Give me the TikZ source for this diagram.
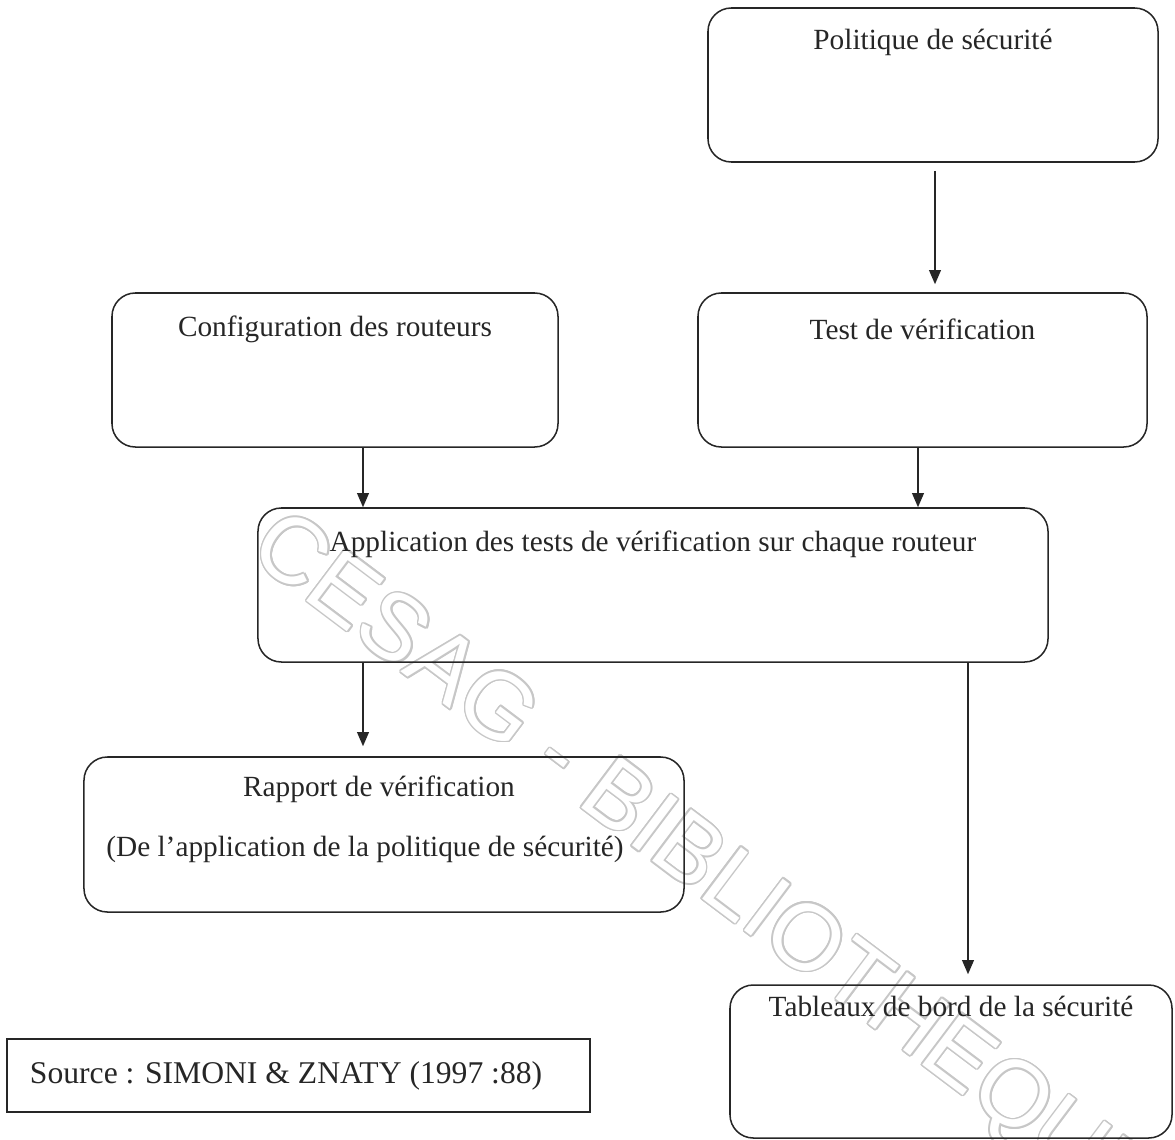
\documentclass[tikz,border=0pt]{standalone}
\usepackage{fontspec}
\setmainfont{Liberation Serif}
\newfontfamily\filigrane{Liberation Sans}
\usetikzlibrary{arrows.meta,positioning,calc}

\begin{document}
\begin{tikzpicture}[x=0.03cm, y=-0.03cm,
   every node/.style={text=black!85, font=\fontsize{25}{30}\selectfont},
   etape/.style={draw=black!85, line width=1.3pt, rounded corners=0.7cm, minimum height=4.62cm},
   fleche/.style={draw=black!85, line width=1.3pt, -{Triangle[width=10pt,length=12pt]}},
   cadre/.style={draw=black!85, line width=1.3pt, minimum width=17.49cm, minimum height=2.19cm,
      inner xsep=0.69cm, text width=16.11cm, align=flush left, font=\fontsize{27}{32}\selectfont},
   filig/.style={anchor=west, rotate=-37, font=\filigrane\fontsize{80}{80}\selectfont}]
   \useasboundingbox (0,0) rectangle (1175,1139);

   % Watermark (behind)
   \coordinate (wm) at (258,534);
   \foreach \a in {0,22.5,...,337.5}
      \node[filig, text=black!22] at ($(wm)+(\a:1.6)$) {CESAG - BIBLIOTHEQUE};
   \node[filig, text=white] (wm-t) at (wm) {CESAG - BIBLIOTHEQUE};

   % Top row
   \node[etape, minimum width=13.5cm] (pol) at (933,85) {};
   \node (pol-t) at ([yshift=-1.05cm]pol.north) {Politique de sécurité};
   \node[etape, minimum width=13.38cm] (cfg) at (335,370) {};
   \node (cfg-t) at ([yshift=-1.11cm]cfg.north) {Configuration des routeurs};
   \node[etape, minimum width=13.47cm] (test) at (922.5,370) {};
   \node (test-t) at ([yshift=-1.11cm]test.north) {Test de vérification};

   % Middle
   \node[etape, minimum width=23.7cm] (app) at (653,585) {};
   \node (app-t) at ([yshift=-1.11cm]app.north) {Application des tests de vérification sur chaque routeur};

   % Results
   \node[etape, minimum width=18cm, minimum height=4.65cm] (rap) at (384,834.5) {};
   \node (rap-t1) at ([xshift=-0.15cm, yshift=-0.99cm]rap.north) {Rapport de vérification};
   \node (rap-t2) at ([xshift=-0.57cm, yshift=-2.79cm]rap.north) {(De l’application de la politique de sécurité)};
   \node[etape, minimum width=13.26cm, minimum height=4.59cm] (tab) at (951,1061.5) {};
   \node (tab-t) at ([yshift=-0.66cm]tab.north) {Tableaux de bord de la sécurité};

   \node[cadre] (src) at (298.5,1075.5) {Source : SIMONI \& ZNATY (1997 :88)};

   % Arrows
   \draw[fleche, shorten <=0.24cm, shorten >=0.24cm] (pol.south -| 935,0) -- (test.north -| 935,0);
   \draw[fleche] (cfg.south -| 363,0) -- (app.north -| 363,0);
   \draw[fleche] (test.south -| 918,0) -- (app.north -| 918,0);
   \draw[fleche, shorten >=0.3cm] (app.south -| 363,0) -- (rap.north -| 363,0);
   \draw[fleche, shorten >=0.3cm] (app.south -| 968,0) -- (tab.north -| 968,0);
\end{tikzpicture}
\end{document}
